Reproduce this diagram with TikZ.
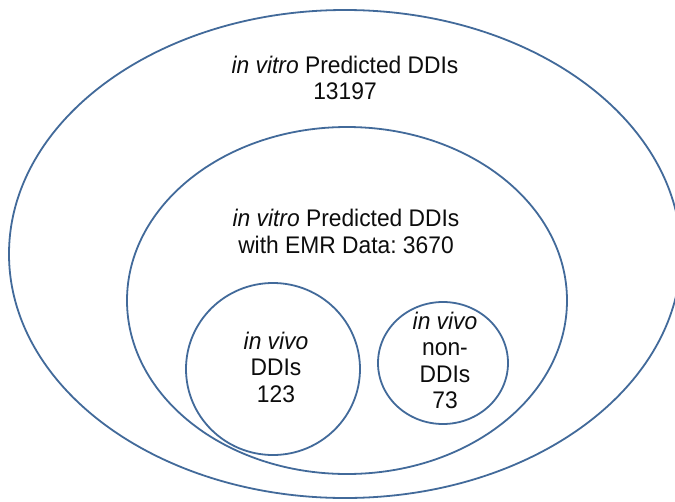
\documentclass[tikz,border=0pt]{standalone}
\usepackage{fontspec}
\setmainfont{Liberation Sans}
\newfontfamily\lblfont[FakeStretch=0.95]{Liberation Sans}
\definecolor{ringblue}{RGB}{66,106,154}
\begin{document}
\frenchspacing
\begin{tikzpicture}[x=1pt,y=-1pt,
  ring/.style={draw=ringblue,line width=1.8pt},
  lbl/.style={font=\lblfont\fontsize{24}{26.5}\selectfont,align=center,inner sep=0pt,text=black!95}]
\useasboundingbox[fill=white] (0,0) rectangle (675,501);
\coordinate (co) at (345,254);
\coordinate (cm) at (347,300.5);
\coordinate (cl) at (273,369);
\coordinate (cr) at (443,363);
\draw[ring] (co) ellipse [x radius=336, y radius=244];
\draw[ring] (cm) ellipse [x radius=220, y radius=173.5];
\draw[ring] (cl) ellipse [x radius=87, y radius=86];
\draw[ring] (cr) ellipse [x radius=65, y radius=61];
\node[lbl] (t1) at (345,78) {\textit{in vitro} Predicted DDIs\\13197};
\node[lbl] (t2) at (346,231.5) {\textit{in vitro} Predicted DDIs\\with EMR Data: 3670};
\node[lbl] (t3) at (276,367) {\textit{in vivo}\\DDIs\\123};
\node[lbl] (t4) at (445,360.5) {\textit{in vivo}\\non-\\DDIs\\73};
\end{tikzpicture}
\end{document}
